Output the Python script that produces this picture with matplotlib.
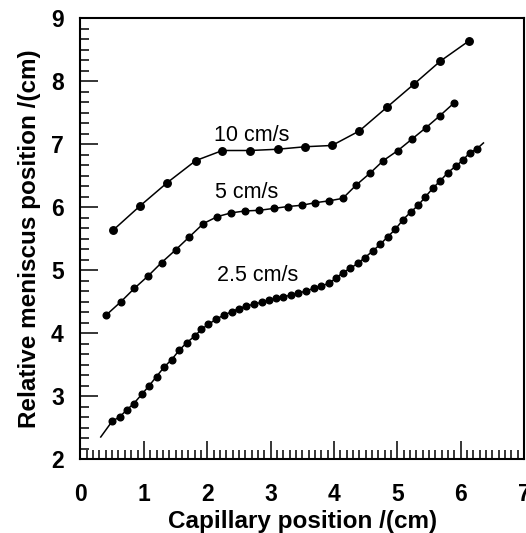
import matplotlib
matplotlib.use("Agg")
import matplotlib.pyplot as plt
from matplotlib.ticker import MultipleLocator

plt.rcParams['font.family'] = ['Liberation Sans', 'DejaVu Sans']

# 10 cm/s
x10 = [0.51, 0.94, 1.37, 1.82, 2.24, 2.68, 3.11, 3.55, 3.97, 4.40, 4.84, 5.27, 5.68, 6.13]
y10 = [5.63, 6.02, 6.39, 6.74, 6.90, 6.90, 6.92, 6.96, 6.98, 7.21, 7.59, 7.96, 8.32, 8.64]

# 5 cm/s
x5 = [0.41, 0.64, 0.85, 1.07, 1.28, 1.50, 1.72, 1.94, 2.16, 2.38, 2.60, 2.82, 3.05,
      3.27, 3.49, 3.70, 3.92, 4.14, 4.35, 4.57, 4.78, 5.01, 5.23, 5.45, 5.67, 5.89]
y5 = [4.29, 4.50, 4.71, 4.91, 5.12, 5.32, 5.53, 5.74, 5.85, 5.91, 5.94, 5.95, 5.98,
      6.01, 6.03, 6.07, 6.10, 6.14, 6.35, 6.54, 6.74, 6.90, 7.08, 7.26, 7.45, 7.65]

# 2.5 cm/s
x25 = [0.50, 0.62, 0.73, 0.84, 0.97, 1.08, 1.20, 1.32, 1.44, 1.56, 1.68, 1.80, 1.91,
       2.02, 2.14, 2.27, 2.39, 2.50, 2.62, 2.74, 2.86, 2.97, 3.09, 3.20, 3.32, 3.43,
       3.56, 3.68, 3.80, 3.92, 4.03, 4.14, 4.26, 4.38, 4.49, 4.62, 4.73, 4.85, 4.97,
       5.09, 5.21, 5.33, 5.44, 5.56, 5.68, 5.80, 5.92, 6.04, 6.14, 6.26]
y25 = [2.60, 2.67, 2.78, 2.88, 3.03, 3.16, 3.31, 3.46, 3.58, 3.73, 3.85, 3.95, 4.06,
       4.14, 4.22, 4.29, 4.34, 4.39, 4.43, 4.46, 4.49, 4.52, 4.55, 4.58, 4.60, 4.63,
       4.67, 4.71, 4.75, 4.79, 4.87, 4.96, 5.03, 5.11, 5.20, 5.31, 5.41, 5.53, 5.65,
       5.80, 5.92, 6.03, 6.16, 6.30, 6.42, 6.55, 6.65, 6.75, 6.86, 6.93]
# fitted line end points for 2.5 cm/s curve
fit25_start = (0.32, 2.35)
fit25_end = (6.36, 7.02)

labels = ["10 cm/s", "5 cm/s", "2.5 cm/s"]
label_pos = [(2.71, 7.14), (2.63, 6.24), (2.80, 4.91)]

fig = plt.figure(figsize=(5.26, 5.33), dpi=100)
ax = fig.add_axes([0.153, 0.1388, 0.8432, 0.8269])

lw = 1.1
ax.plot(x10, y10, color='black', lw=lw, marker='o', ms=5.4, mec='black', mfc='black')
ax.plot(x5, y5, color='black', lw=lw, marker='o', ms=4.8, mec='black', mfc='black')
lx = [fit25_start[0]] + x25 + [fit25_end[0]]
ly = [fit25_start[1]] + y25 + [fit25_end[1]]
ax.plot(lx, ly, color='black', lw=lw)
ax.plot(x25, y25, 'o', color='black', ms=4.8)

for t, (tx, ty) in zip(labels, label_pos):
    ax.text(tx, ty, t, ha='center', va='center', fontsize=15.5)

ax.set_xlim(0, 7)
ax.set_ylim(2, 9)
ax.xaxis.set_major_locator(MultipleLocator(1))
ax.xaxis.set_minor_locator(MultipleLocator(0.1))
ax.yaxis.set_major_locator(MultipleLocator(1))
ax.yaxis.set_minor_locator(MultipleLocator(1/6))

ax.tick_params(which='both', direction='in', top=False, right=False, width=1.1)
ax.tick_params(which='major', length=13)
ax.tick_params(which='minor', length=6.5)
ax.tick_params(axis='x', which='major', pad=17, labelsize=16.5)
ax.tick_params(axis='y', which='major', pad=12, labelsize=16.5)
for lab in ax.get_xticklabels() + ax.get_yticklabels():
    lab.set_fontweight('bold')

for s in ax.spines.values():
    s.set_linewidth(1.5)

ax.set_xlabel('Capillary position /(cm)', fontsize=17.5, fontweight='bold', labelpad=3)
ax.set_ylabel('Relative meniscus position /(cm)', fontsize=17.5, fontweight='bold', labelpad=7)

fig.savefig('out.png', dpi=100)
